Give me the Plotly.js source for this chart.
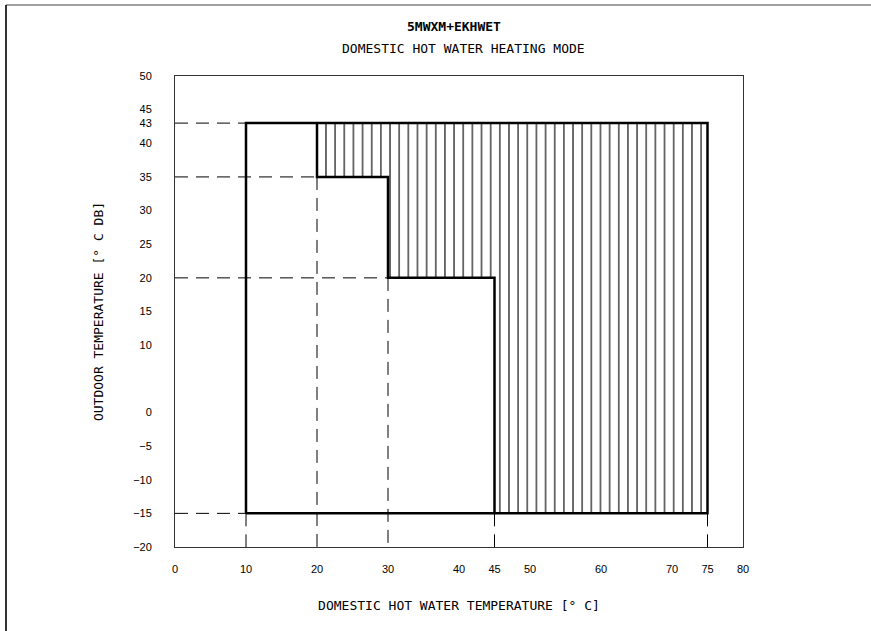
<!DOCTYPE html>
<html>
<head>
<meta charset="utf-8">
<script src="https://cdn.plot.ly/plotly-3.0.1.min.js"></script>
<style>
  html, body { margin: 0; padding: 0; background: #fff; }
  #chart { width: 871px; height: 631px; }
</style>
</head>
<body>
<div id="chart"></div>
<script>
// ---- data ----
const chartTitle = "5MWXM+EKHWET";
const chartSubtitle = "DOMESTIC HOT WATER HEATING MODE";
const xTitle = "DOMESTIC HOT WATER TEMPERATURE [° C]";
const yTitle = "OUTDOOR TEMPERATURE [° C DB]";

const xTickVals = [0, 10, 20, 30, 40, 45, 50, 60, 70, 75, 80];
const yTickVals = [50, 45, 43, 40, 35, 30, 25, 20, 15, 10, 0, -5, -10, -15, -20];
const xRange = [0, 80];
const yRange = [-20, 50];

// operating envelope (outer box)
const envelopeX = [10, 10, 75, 75, 10];
const envelopeY = [-15, 43, 43, -15, -15];
// staircase boundary between zones
const boundaryX = [20, 20, 30, 30, 45, 45];
const boundaryY = [43, 35, 35, 20, 20, -15];
// hatched zone
const hatchX = [20, 75, 75, 45, 45, 30, 30, 20, 20];
const hatchY = [43, 43, -15, -15, 20, 20, 35, 35, 43];

// dashed guide lines
const hGuideY = [43, 35, 20, -15];
const hGuideToX = [10, 20, 30, 10];
const vGuideX = [10, 20, 30, 45, 75];
const vGuideFromY = [-15, 35, 20, -15, -15];

// ---- layout geometry ----
const W = 871, H = 631;
const M = { l: 175, r: 128, t: 76, b: 84 };
const PW = W - M.l - M.r, PH = H - M.t - M.b;
const px = x => (x - M.l) / PW;
const py = y => (H - M.b - y) / PH;

const traces = [];

traces.push({
  x: hatchX, y: hatchY, mode: 'lines', fill: 'toself',
  fillcolor: 'white',
  fillpattern: { shape: '|', size: 9.15, solidity: 0.13, fgcolor: '#111', bgcolor: 'white' },
  line: { width: 0, color: 'rgba(0,0,0,0)' }, hoverinfo: 'skip', showlegend: false
});

hGuideY.forEach((yv, i) => {
  traces.push({
    x: [xRange[0], hGuideToX[i]], y: [yv, yv], mode: 'lines',
    line: { color: '#000', width: 1, dash: '13px,8px' }, showlegend: false, hoverinfo: 'skip'
  });
});
vGuideX.forEach((xv, i) => {
  traces.push({
    x: [xv, xv], y: [vGuideFromY[i], yRange[0]], mode: 'lines',
    line: { color: '#000', width: 1, dash: '13px,8px' }, showlegend: false, hoverinfo: 'skip'
  });
});

traces.push({
  x: envelopeX, y: envelopeY, mode: 'lines',
  line: { color: '#000', width: 2.5 }, showlegend: false, hoverinfo: 'skip'
});
traces.push({
  x: boundaryX, y: boundaryY, mode: 'lines',
  line: { color: '#000', width: 2.5 }, showlegend: false, hoverinfo: 'skip'
});

const monoFont = { family: 'DejaVu Sans Mono, monospace', size: 13, color: '#000' };
const tickFont = { family: 'Liberation Sans, Arial, sans-serif', size: 11, color: '#000' };

const layout = {
  width: W, height: H,
  margin: M,
  paper_bgcolor: '#fff', plot_bgcolor: '#fff',
  showlegend: false,
  xaxis: {
    range: xRange, tickmode: 'array', tickvals: xTickVals,
    ticktext: xTickVals.map(String),
    ticks: '', showgrid: false, zeroline: false,
    showline: true, mirror: true, linecolor: '#333', linewidth: 1,
    tickfont: tickFont, ticklabelstandoff: 12,
    title: { text: xTitle, font: monoFont, standoff: 26 },
    automargin: false, fixedrange: true
  },
  yaxis: {
    range: yRange, tickmode: 'array', tickvals: yTickVals,
    ticktext: yTickVals.map(v => v < 0 ? '\u2212' + Math.abs(v) : String(v)),
    ticks: '', showgrid: false, zeroline: false,
    showline: true, mirror: true, linecolor: '#333', linewidth: 1,
    tickfont: tickFont, ticklabelstandoff: 20,
    title: { text: yTitle, font: monoFont, standoff: 26 },
    automargin: false, fixedrange: true
  },
  annotations: [
    { text: '<b>' + chartTitle + '</b>', xref: 'paper', yref: 'paper',
      x: px(454), y: py(26), xanchor: 'center', yanchor: 'middle', showarrow: false,
      font: { family: 'DejaVu Sans Mono, monospace', size: 13, color: '#000' } },
    { text: chartSubtitle, xref: 'paper', yref: 'paper',
      x: px(463), y: py(48), xanchor: 'center', yanchor: 'middle', showarrow: false,
      font: monoFont }
  ],
  shapes: [
    { type: 'line', xref: 'paper', yref: 'paper', x0: px(6), x1: px(W), y0: py(5), y1: py(5),
      line: { color: '#444', width: 1.2 } },
    { type: 'line', xref: 'paper', yref: 'paper', x0: px(6), x1: px(6), y0: py(5), y1: py(H),
      line: { color: '#000', width: 1.6 } }
  ]
};

Plotly.newPlot('chart', traces, layout, { staticPlot: true, displayModeBar: false });
</script>
</body>
</html>
